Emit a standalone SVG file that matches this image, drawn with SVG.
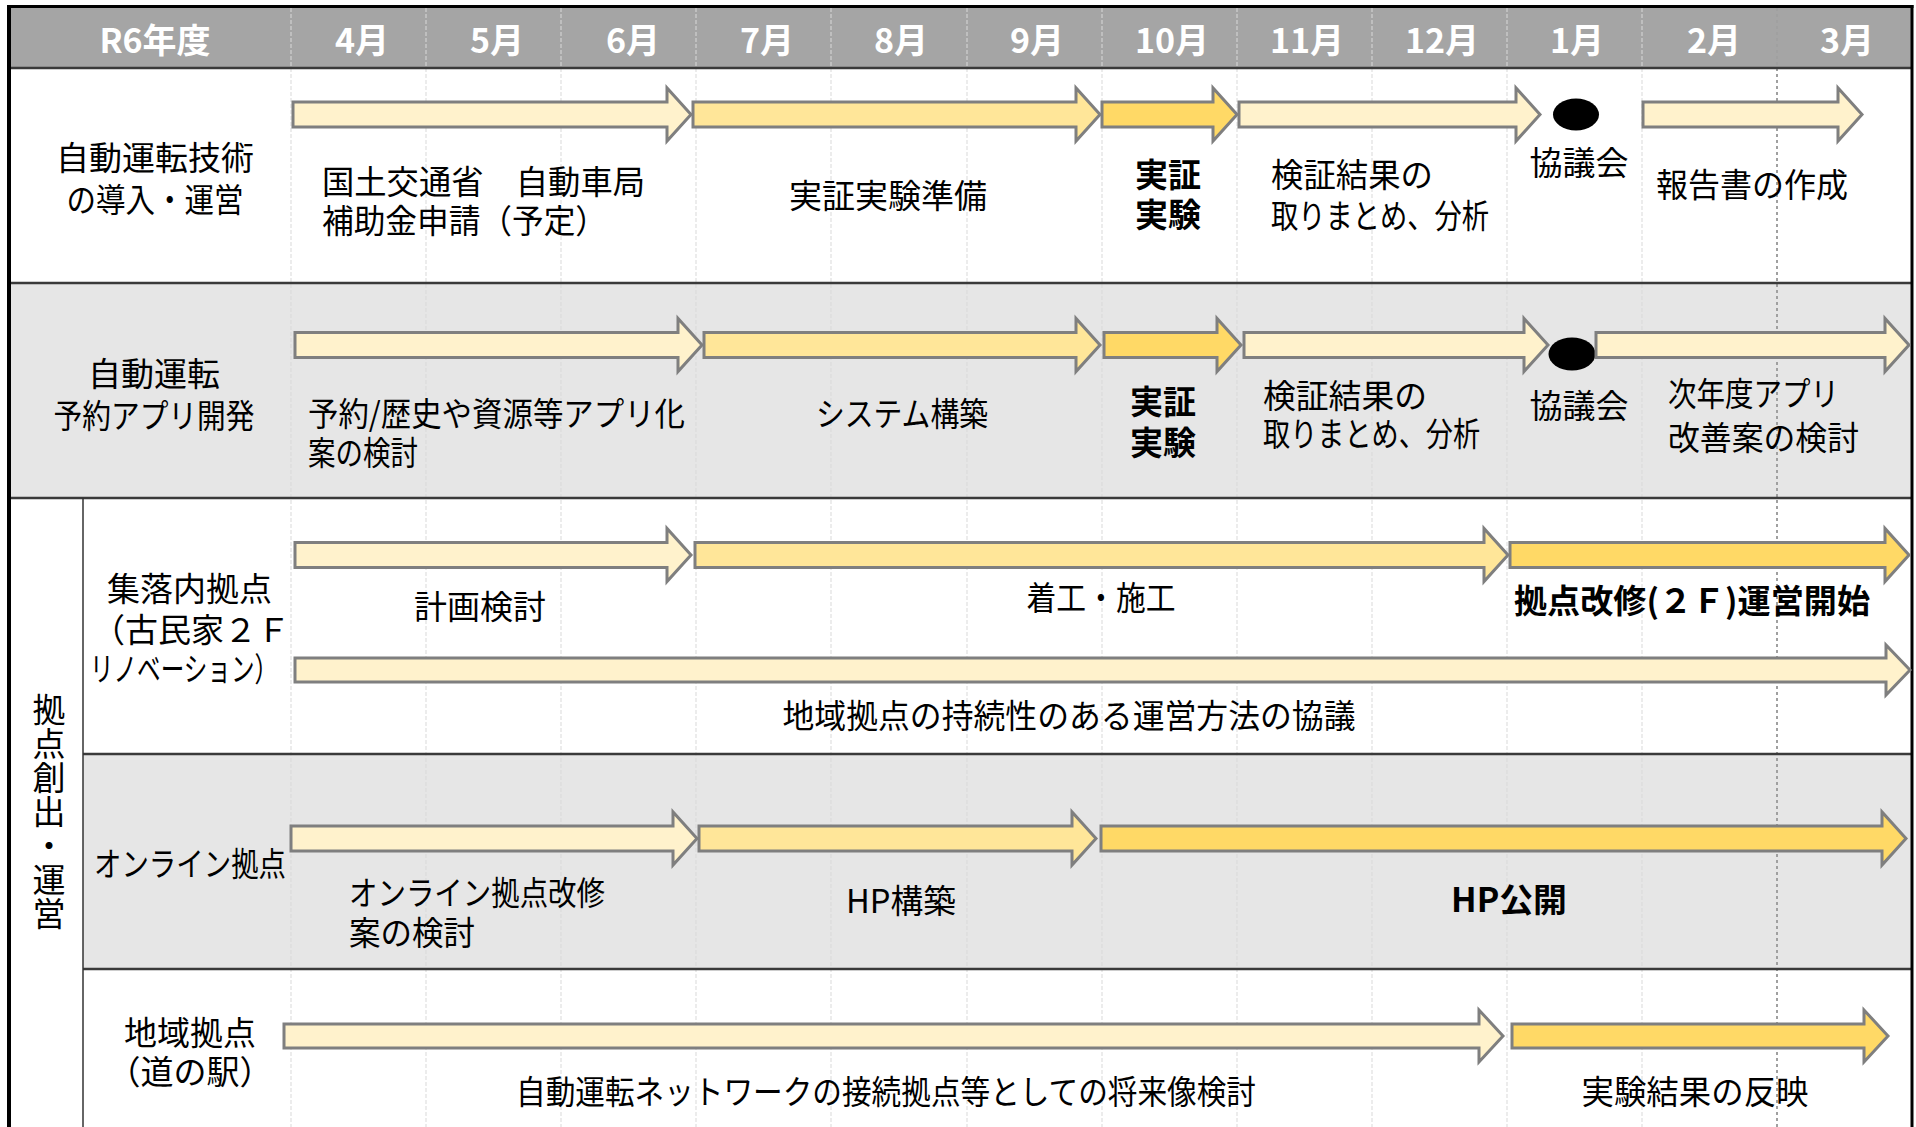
<svg xmlns="http://www.w3.org/2000/svg" width="1916" height="1127" viewBox="0 0 1916 1127">
<style>
.t{font-family:"Noto Sans CJK JP","Noto Sans",sans-serif;font-size:33px;fill:#000;dominant-baseline:central}
.m{text-anchor:middle}
.b{font-weight:bold}
.h{font-family:"Noto Sans CJK JP","Noto Sans",sans-serif;font-size:34px;font-weight:bold;fill:#fff;text-anchor:middle;dominant-baseline:central}
.a{stroke:#7f7f7f;stroke-width:3;stroke-linejoin:miter}
.c1{fill:#fff2cc}.c2{fill:#ffe699}.c3{fill:#ffd966}
.g{stroke:#d9d9d9;stroke-width:1;stroke-dasharray:4 2}
.sep{stroke:#3a3a3a;stroke-width:2.5}
</style>
<rect x="0" y="0" width="1916" height="1127" fill="#fff"/>
<g id="background">
<rect x="9" y="8" width="1903" height="60" fill="#a5a5a5"/>
<rect x="9" y="283" width="1903" height="215" fill="#e6e6e6"/>
<rect x="83" y="754" width="1829" height="215" fill="#e6e6e6"/>
</g>
<g id="grid">
<line class="g" x1="291" y1="8" x2="291" y2="1127"/>
<line class="g" x1="426" y1="8" x2="426" y2="1127"/>
<line class="g" x1="561" y1="8" x2="561" y2="1127"/>
<line class="g" x1="696" y1="8" x2="696" y2="1127"/>
<line class="g" x1="831" y1="8" x2="831" y2="1127"/>
<line class="g" x1="967" y1="8" x2="967" y2="1127"/>
<line class="g" x1="1102" y1="8" x2="1102" y2="1127"/>
<line class="g" x1="1237" y1="8" x2="1237" y2="1127"/>
<line class="g" x1="1372" y1="8" x2="1372" y2="1127"/>
<line class="g" x1="1507" y1="8" x2="1507" y2="1127"/>
<line class="g" x1="1642" y1="8" x2="1642" y2="1127"/>
<line x1="1777" y1="8" x2="1777" y2="1127" stroke="#a0a0a0" stroke-width="2" stroke-dasharray="3 3"/>
<line class="sep" x1="9" y1="68" x2="1912" y2="68" stroke="#000"/>
<line class="sep" x1="9" y1="283" x2="1912" y2="283"/>
<line class="sep" x1="9" y1="498" x2="1912" y2="498"/>
<line class="sep" x1="83" y1="754" x2="1912" y2="754"/>
<line class="sep" x1="83" y1="969" x2="1912" y2="969"/>
<line x1="83" y1="498" x2="83" y2="1127" stroke="#333" stroke-width="1.5"/>
<line x1="9" y1="5" x2="9" y2="1127" stroke="#000" stroke-width="4"/>
<line x1="7" y1="6.5" x2="1913.5" y2="6.5" stroke="#000" stroke-width="3"/>
<line x1="1912" y1="5" x2="1912" y2="1127" stroke="#000" stroke-width="3"/>
</g>
<g id="header">
<text class="h" x="155" y="38">R6年度</text>
<text class="h" x="362" y="38">4月</text>
<text class="h" x="497" y="38">5月</text>
<text class="h" x="633" y="38">6月</text>
<text class="h" x="767" y="38">7月</text>
<text class="h" x="901" y="38">8月</text>
<text class="h" x="1037" y="38">9月</text>
<text class="h" x="1172" y="38">10月</text>
<text class="h" x="1307" y="38">11月</text>
<text class="h" x="1442" y="38">12月</text>
<text class="h" x="1577" y="38">1月</text>
<text class="h" x="1714" y="38">2月</text>
<text class="h" x="1847" y="38">3月</text>
</g>
<g id="row1">
<g id="row1-label">
<text class="t m"><tspan x="155" y="156">自動運転技術</tspan><tspan x="155" y="198" textLength="177" lengthAdjust="spacingAndGlyphs">の導入・運営</tspan></text>
</g>
<g id="row1-task1">
<polygon class="a c1" points="293,102 667,102 667,88 691,114.5 667,141 667,127 293,127"/>
<text class="t"><tspan x="322" y="180" textLength="323" lengthAdjust="spacingAndGlyphs">国土交通省　自動車局</tspan><tspan x="322" y="219" textLength="285" lengthAdjust="spacingAndGlyphs">補助金申請（予定）</tspan></text>
</g>
<g id="row1-task2">
<polygon class="a c2" points="693,102 1076,102 1076,88 1100,114.5 1076,141 1076,127 693,127"/>
<text class="t m" x="888" y="194">実証実験準備</text>
</g>
<g id="row1-task3">
<polygon class="a c3" points="1102,102 1213,102 1213,88 1237,114.5 1213,141 1213,127 1102,127"/>
<text class="t m b"><tspan x="1168" y="173">実証</tspan><tspan x="1168" y="213">実験</tspan></text>
</g>
<g id="row1-task4">
<polygon class="a c1" points="1239,102 1516,102 1516,88 1540,114.5 1516,141 1516,127 1239,127"/>
<text class="t"><tspan x="1271" y="173" textLength="162" lengthAdjust="spacingAndGlyphs">検証結果の</tspan><tspan x="1271" y="214" textLength="218" lengthAdjust="spacingAndGlyphs">取りまとめ、分析</tspan></text>
</g>
<g id="row1-meeting">
<ellipse cx="1576" cy="114.5" rx="23" ry="16" fill="#000"/>
<text class="t m" x="1579" y="161">協議会</text>
</g>
<g id="row1-task5">
<polygon class="a c1" points="1643,102 1838,102 1838,88 1862,114.5 1838,141 1838,127 1643,127"/>
<text class="t" x="1656" y="183" textLength="192" lengthAdjust="spacingAndGlyphs">報告書の作成</text>
</g>
</g>
<g id="row2">
<g id="row2-label">
<text class="t m"><tspan x="154" y="372">自動運転</tspan><tspan x="154" y="414" textLength="201" lengthAdjust="spacingAndGlyphs">予約アプリ開発</tspan></text>
</g>
<g id="row2-task1">
<polygon class="a c1" points="295,332.5 678,332.5 678,318.5 702,345 678,371.5 678,357.5 295,357.5"/>
<text class="t"><tspan x="308" y="412" textLength="377" lengthAdjust="spacingAndGlyphs">予約/歴史や資源等アプリ化</tspan><tspan x="308" y="451" textLength="110" lengthAdjust="spacingAndGlyphs">案の検討</tspan></text>
</g>
<g id="row2-task2">
<polygon class="a c2" points="704,332.5 1076,332.5 1076,318.5 1100,345 1076,371.5 1076,357.5 704,357.5"/>
<text class="t m" x="902" y="412" textLength="172" lengthAdjust="spacingAndGlyphs">システム構築</text>
</g>
<g id="row2-task3">
<polygon class="a c3" points="1104,332.5 1217,332.5 1217,318.5 1241,345 1217,371.5 1217,357.5 1104,357.5"/>
<text class="t m b"><tspan x="1163" y="400">実証</tspan><tspan x="1163" y="441">実験</tspan></text>
</g>
<g id="row2-task4">
<polygon class="a c1" points="1244,332.5 1524,332.5 1524,318.5 1548,345 1524,371.5 1524,357.5 1244,357.5"/>
<text class="t"><tspan x="1263" y="394" textLength="164" lengthAdjust="spacingAndGlyphs">検証結果の</tspan><tspan x="1263" y="432" textLength="217" lengthAdjust="spacingAndGlyphs">取りまとめ、分析</tspan></text>
</g>
<g id="row2-meeting">
<ellipse cx="1572" cy="354" rx="23.5" ry="16.5" fill="#000"/>
<text class="t m" x="1579" y="404">協議会</text>
</g>
<g id="row2-task5">
<polygon class="a c1" points="1596,332.5 1885,332.5 1885,318.5 1909,345 1885,371.5 1885,357.5 1596,357.5"/>
<text class="t"><tspan x="1668" y="392" textLength="171" lengthAdjust="spacingAndGlyphs">次年度アプリ</tspan><tspan x="1668" y="436" textLength="191" lengthAdjust="spacingAndGlyphs">改善案の検討</tspan></text>
</g>
</g>
<g id="group-label">
<text class="t m" x="49" y="812" style="writing-mode:vertical-rl;letter-spacing:1px">拠点創出・運営</text>
</g>
<g id="row3">
<g id="row3-label">
<text class="t"><tspan x="107" y="587">集落内拠点</tspan><tspan x="92" y="628">（古民家２Ｆ</tspan><tspan x="90" y="667" textLength="188" lengthAdjust="spacingAndGlyphs">リノベーション）</tspan></text>
</g>
<g id="row3-task1">
<polygon class="a c1" points="295,542.5 667,542.5 667,528.5 691,555 667,581.5 667,567.5 295,567.5"/>
<text class="t m" x="480" y="605">計画検討</text>
</g>
<g id="row3-task2">
<polygon class="a c2" points="695,542.5 1484,542.5 1484,528.5 1508,555 1484,581.5 1484,567.5 695,567.5"/>
<text class="t m" x="1101" y="596" textLength="149" lengthAdjust="spacingAndGlyphs">着工・施工</text>
</g>
<g id="row3-task3">
<polygon class="a c3" points="1510,542.5 1885,542.5 1885,528.5 1909,555 1885,581.5 1885,567.5 1510,567.5"/>
<text class="t m b" x="1692" y="599" textLength="356" lengthAdjust="spacingAndGlyphs">拠点改修(２Ｆ)運営開始</text>
</g>
<g id="row3-task4">
<polygon class="a c1" points="295,658 1886,658 1886,645 1910,670 1886,695 1886,682 295,682"/>
<text class="t m" x="1069" y="714" textLength="573" lengthAdjust="spacingAndGlyphs">地域拠点の持続性のある運営方法の協議</text>
</g>
</g>
<g id="row4">
<g id="row4-label">
<text class="t m" x="190" y="862" textLength="192" lengthAdjust="spacingAndGlyphs">オンライン拠点</text>
</g>
<g id="row4-task1">
<polygon class="a c1" points="291,826 673,826 673,812 697,838.5 673,865 673,851 291,851"/>
<text class="t"><tspan x="349" y="891" textLength="256" lengthAdjust="spacingAndGlyphs">オンライン拠点改修</tspan><tspan x="349" y="931" textLength="126" lengthAdjust="spacingAndGlyphs">案の検討</tspan></text>
</g>
<g id="row4-task2">
<polygon class="a c2" points="699,826 1072,826 1072,812 1096,838.5 1072,865 1072,851 699,851"/>
<text class="t" x="846" y="899" textLength="110" lengthAdjust="spacingAndGlyphs">HP構築</text>
</g>
<g id="row4-task3">
<polygon class="a c3" points="1101,826 1882,826 1882,812 1906,838.5 1882,865 1882,851 1101,851"/>
<text class="t m b" x="1509" y="898" textLength="116" lengthAdjust="spacingAndGlyphs">HP公開</text>
</g>
</g>
<g id="row5">
<g id="row5-label">
<text class="t m"><tspan x="190" y="1031">地域拠点</tspan><tspan x="190" y="1070">（道の駅）</tspan></text>
</g>
<g id="row5-task1">
<polygon class="a c1" points="284,1024 1479,1024 1479,1010 1503,1036 1479,1062 1479,1048 284,1048"/>
<text class="t" x="516" y="1090" textLength="740" lengthAdjust="spacingAndGlyphs">自動運転ネットワークの接続拠点等としての将来像検討</text>
</g>
<g id="row5-task2">
<polygon class="a c3" points="1512,1024 1864,1024 1864,1010 1888,1036 1864,1062 1864,1048 1512,1048"/>
<text class="t m" x="1695" y="1090" textLength="227" lengthAdjust="spacingAndGlyphs">実験結果の反映</text>
</g>
</g>
<g id="connectors"></g>
</svg>
